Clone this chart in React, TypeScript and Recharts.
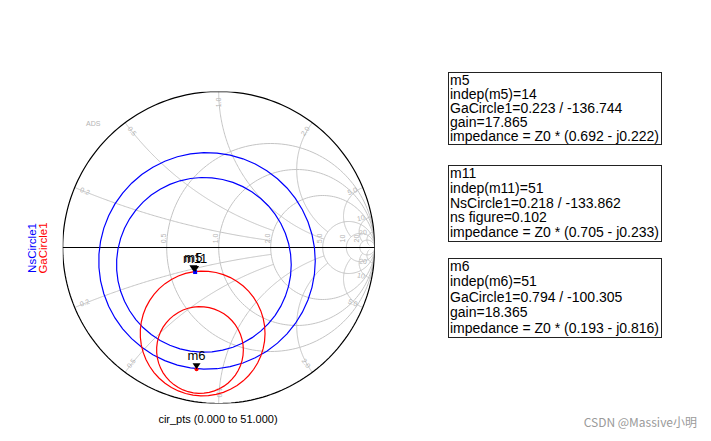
import React from 'react';
import { ScatterChart, Scatter, XAxis, YAxis } from 'recharts';

// Smith chart grid
const resistanceValues = [0.5, 1, 2, 5, 10, 20];
const resistanceLabels = ['0.5', '1.0', '2.0', '5.0', '10', '20'];
const reactanceValues = [0.2, 0.5, 1, 2, 5, 10, 20];
const reactanceLabels = ['0.2', '0.5', '1.0', '2.0', '5.0', '10', '20'];
const reactanceLimits = [2, 2, 5, 5, 10, 20, 50]; // arc stops at this r circle

// circles (reflection-coefficient plane)
const gaCircleCenters = [[-0.103, -0.551], [-0.12, -0.657]];
const gaCircleRadii = [0.4, 0.278];
const gaMaxPoint = [0.794, -100.305];
const nsCircleCenters = [[-0.075, -0.086], [-0.095, -0.111]];
const nsCircleRadii = [0.694, 0.56];
const nsMinPoint = [0.218, -133.862];

const markerNames = ['m5', 'm11', 'm6'];
const markerMags = [0.223, 0.218, 0.794];
const markerAngles = [-136.744, -133.862, -100.305];

const m5Lines = ['m5', 'indep(m5)=14', 'GaCircle1=0.223 / -136.744', 'gain=17.865', 'impedance = Z0 * (0.692 - j0.222)'];
const m11Lines = ['m11', 'indep(m11)=51', 'NsCircle1=0.218 / -133.862', 'ns figure=0.102', 'impedance = Z0 * (0.705 - j0.233)'];
const m6Lines = ['m6', 'indep(m6)=51', 'GaCircle1=0.794 / -100.305', 'gain=18.365', 'impedance = Z0 * (0.193 - j0.816)'];

const CIR_PTS = 52;

const gamma = (r: number, x: number) => {
  const d = (r + 1) * (r + 1) + x * x;
  return { x: (r * r + x * x - 1) / d, y: (2 * x) / d };
};

const polar = (mag: number, ang: number) => ({
  x: mag * Math.cos((ang * Math.PI) / 180),
  y: mag * Math.sin((ang * Math.PI) / 180),
});

const circlePts = (cx: number, cy: number, rad: number, n: number) =>
  Array.from({ length: n }, (_, i) => {
    const t = (2 * Math.PI * i) / (n - 1);
    return { x: cx + rad * Math.cos(t), y: cy + rad * Math.sin(t) };
  });

const resistanceCircles = resistanceValues.map((r) => circlePts(r / (r + 1), 0, 1 / (r + 1), 181));

const reactanceArcs: { x: number; y: number }[][] = [];
reactanceValues.forEach((xv, i) => {
  [xv, -xv].forEach((s) => {
    reactanceArcs.push(
      Array.from({ length: 201 }, (_, k) => {
        const t = k / 200;
        return gamma(reactanceLimits[i] * t * t, s);
      })
    );
  });
});

const gridLabels = [
  ...resistanceValues.map((r, i) => ({ ...gamma(r, 0), text: resistanceLabels[i], kind: 'axis' })),
  ...reactanceValues.flatMap((xv, i) =>
    [xv, -xv].map((s) => {
      const g = gamma(0, s);
      return { x: g.x * 0.93, y: g.y * 0.93, text: reactanceLabels[i], kind: 'edge' };
    })
  ),
];

const outerCircle = circlePts(0, 0, 1, 241);
const realAxis = [{ x: -1, y: 0 }, { x: 1, y: 0 }];

const gaCircles = gaCircleCenters.map((c, i) => circlePts(c[0], c[1], gaCircleRadii[i], CIR_PTS));
const nsCircles = nsCircleCenters.map((c, i) => circlePts(c[0], c[1], nsCircleRadii[i], CIR_PTS));

const markers = markerNames.map((name, i) => ({ ...polar(markerMags[i], markerAngles[i]), name }));

const noDot = () => <g />;

const GridLabel = (props: any) => {
  const { cx, cy, payload } = props;
  if (payload.kind === 'axis') {
    return (
      <text x={cx - 3} y={cy - 9} transform={`rotate(-90 ${cx - 3} ${cy - 9})`} fontSize={7} fill="#b4b4b4" textAnchor="middle" dominantBaseline="middle">
        {payload.text}
      </text>
    );
  }
  let deg = (Math.atan2(payload.y, payload.x) * 180) / Math.PI;
  let rot = -deg;
  if (rot < -90) rot += 180;
  if (rot > 90) rot -= 180;
  return (
    <text x={cx} y={cy} transform={`rotate(${rot} ${cx} ${cy})`} fontSize={7} fill="#b4b4b4" textAnchor="middle" dominantBaseline="middle">
      {payload.text}
    </text>
  );
};

const MarkerShape = (props: any) => {
  const { cx, cy, payload } = props;
  return (
    <g>
      <path d={`M${cx - 4},${cy - 6} L${cx + 4},${cy - 6} L${cx},${cy} Z`} fill="#000" />
      <text x={cx} y={cy - 9} fontSize={13} fill="#000" textAnchor="middle" fontFamily="Liberation Sans, Arial, sans-serif">
        {payload.name}
      </text>
    </g>
  );
};

const BlueSquare = (props: any) => <rect x={props.cx - 2} y={props.cy - 2} width={4} height={4} fill="#0000ff" />;
const RedDot = (props: any) => <circle cx={props.cx} cy={props.cy} r={2} fill="#ff0000" />;

const MarkerBox = ({ top, height, lines }: { top: number; height: number; lines: string[] }) => (
  <div
    style={{
      position: 'absolute',
      left: 440,
      top,
      width: 211,
      height,
      border: '1px solid #222',
      fontSize: 14,
      lineHeight: `${(height - 1) / 5}px`,
      paddingLeft: 1,
      whiteSpace: 'nowrap',
      color: '#000',
    }}
  >
    {lines.map((l) => (
      <div key={l}>{l}</div>
    ))}
  </div>
);

export default function App() {
  return (
    <div style={{ position: 'relative', width: 695, height: 425, fontFamily: '"Liberation Sans", Arial, sans-serif' }}>
      <ScatterChart width={695} height={425} margin={{ top: 83.5, left: 54.7, right: 328.3, bottom: 29.5 }}>
        <XAxis type="number" dataKey="x" domain={[-1, 1]} hide allowDataOverflow />
        <YAxis type="number" dataKey="y" domain={[-1, 1]} hide allowDataOverflow />
        {resistanceCircles.map((pts, i) => (
          <Scatter key={`r-${i}`} data={pts} line={{ stroke: '#c4c4c4', strokeWidth: 1 }} shape={noDot} isAnimationActive={false} />
        ))}
        {reactanceArcs.map((pts, i) => (
          <Scatter key={`x-${i}`} data={pts} line={{ stroke: '#c4c4c4', strokeWidth: 1 }} shape={noDot} isAnimationActive={false} />
        ))}
        <Scatter data={gridLabels} shape={GridLabel} isAnimationActive={false} />
        <Scatter data={outerCircle} line={{ stroke: '#000', strokeWidth: 1.2 }} shape={noDot} isAnimationActive={false} />
        <Scatter data={realAxis} line={{ stroke: '#000', strokeWidth: 1 }} shape={noDot} isAnimationActive={false} />
        {nsCircles.map((pts, i) => (
          <Scatter key={`ns-${i}`} data={pts} line={{ stroke: '#0000ff', strokeWidth: 1.2 }} shape={noDot} isAnimationActive={false} />
        ))}
        {gaCircles.map((pts, i) => (
          <Scatter key={`ga-${i}`} data={pts} line={{ stroke: '#ff0000', strokeWidth: 1.2 }} shape={noDot} isAnimationActive={false} />
        ))}
        <Scatter data={[polar(nsMinPoint[0], nsMinPoint[1])]} shape={BlueSquare} isAnimationActive={false} />
        <Scatter data={[polar(gaMaxPoint[0], gaMaxPoint[1])]} shape={RedDot} isAnimationActive={false} />
        <Scatter data={markers} shape={MarkerShape} isAnimationActive={false} />
      </ScatterChart>

      <svg width={695} height={425} style={{ position: 'absolute', left: 0, top: 0, pointerEvents: 'none' }}>
        <text x={78} y={118} fontSize={7} fill="#b4b4b4">ADS</text>
        <text x={25} y={240} transform="rotate(-90 25 240)" fontSize={11.5} fill="#0000ff" textAnchor="middle" dominantBaseline="middle">
          NsCircle1
        </text>
        <text x={36} y={240} transform="rotate(-90 36 240)" fontSize={11.5} fill="#ff0000" textAnchor="middle" dominantBaseline="middle">
          GaCircle1
        </text>
        <text x={210} y={415} fontSize={11} fill="#000" textAnchor="middle">
          cir_pts (0.000 to 51.000)
        </text>
        <text x={689} y={419} fontSize={12} fill="#9a9a9a" textAnchor="end" fontFamily='"Noto Sans CJK SC", "Liberation Sans", sans-serif'>
          CSDN @Massive小明
        </text>
      </svg>

      <MarkerBox top={64} height={71} lines={m5Lines} />
      <MarkerBox top={157} height={75} lines={m11Lines} />
      <MarkerBox top={250} height={78} lines={m6Lines} />
    </div>
  );
}
